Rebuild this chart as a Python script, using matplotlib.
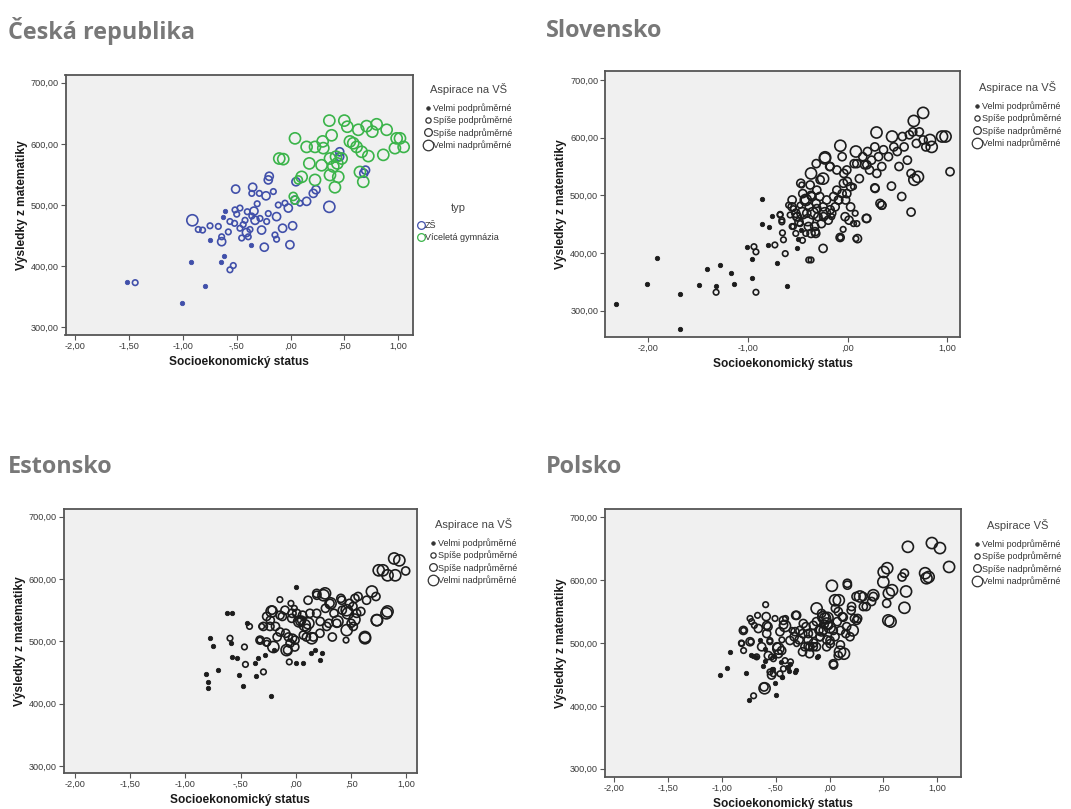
import matplotlib
matplotlib.use("Agg")
import matplotlib.pyplot as plt
from matplotlib.lines import Line2D
from matplotlib.ticker import FixedLocator, FuncFormatter

plt.rcParams['font.family'] = ['Liberation Sans', 'DejaVu Sans']

# ---------------- data ----------------
asp_labels = ["Velmi podprůměrné", "Spíše podprůměrné", "Spíše nadprůměrné", "Velmi nadprůměrné"]
typ_labels = ["ZŠ", "Víceletá gymnázia"]
x_label = "Socioekonomický status"
y_label = "Výsledky z matematiky"
titles = ["Česká republika", "Slovensko", "Estonsko", "Polsko"]
legend_titles = ["Aspirace na VŠ", "Aspirace na VŠ", "Aspirace na VŠ", "Aspirace VŠ"]
y_ticks = [300, 400, 500, 600, 700]
x_ticks_half = [-2.0, -1.5, -1.0, -0.5, 0.0, 0.5, 1.0]
x_ticks_unit = [-2.0, -1.0, 0.0, 1.0]

# Czech republic - ZŠ (ses, math, aspiration category 0..3)
cz_zs_ses = [-1.52, -1.443, -1.01, -0.928, -0.795, -0.912, -0.857, -0.817, -0.748, -0.748,
             -0.649, -0.618, -0.563, -0.532, -0.64, -0.64, -0.609, -0.625, -0.671, -0.563,
             -0.578, -0.516, -0.47, -0.51, -0.47, -0.423, -0.454, -0.393, -0.377, -0.402,
             -0.34, -0.33, -0.269, -0.371, -0.244, -0.352, -0.36, -0.29, -0.228, -0.207,
             -0.198, -0.16, -0.284, -0.207, -0.222, -0.13, -0.114, -0.074, -0.145, -0.13,
             0.019, -0.006, -0.052, -0.021, 0.04, 0.087, 0.149, 0.211, 0.05, 0.236,
             0.36, 0.456, 0.456, 0.696, 0.68, -0.5, -0.44, -0.36, -0.52, -0.41, -0.31]
cz_zs_math = [374, 373, 340, 406, 368, 475, 460, 459, 466, 443,
              406, 417, 394, 401, 440, 448, 491, 480, 465, 473,
              456, 492, 495, 526, 462, 475, 446, 448, 460, 489,
              490, 475, 459, 435, 431, 529, 519, 519, 515, 541,
              547, 522, 478, 486, 473, 481, 500, 462, 451, 444,
              466, 435, 503, 495, 508, 503, 506, 519, 538, 525,
              497, 587, 579, 557, 552, 485, 468, 482, 470, 455, 502]
cz_zs_asp = [0, 1, 0, 0, 0, 3, 1, 1, 1, 0,
             0, 0, 1, 1, 2, 1, 0, 0, 1, 1,
             1, 1, 1, 2, 1, 1, 1, 1, 1, 1,
             2, 2, 2, 0, 2, 2, 1, 1, 2, 2,
             2, 1, 1, 1, 1, 2, 1, 2, 1, 1,
             2, 2, 1, 2, 2, 1, 2, 2, 2, 2,
             3, 2, 2, 2, 2, 1, 1, 1, 1, 2, 1]

# Czech republic - Víceletá gymnázia
cz_gym_ses = [0.36, 0.499, 0.527, 0.706, 0.799, 0.759, 0.892, 0.985, 0.629, 0.381,
              0.041, 0.149, 0.227, 0.298, 0.304, 0.551, 0.582, 0.613, 0.66, 0.722,
              0.861, 0.969, -0.105, -0.068, 0.174, 0.288, 0.366, 0.422, 0.474, 0.434,
              0.397, 0.072, 0.103, 0.227, 0.366, 0.443, 0.412, 0.644, 0.675, 0.025,
              0.041, 1.05, 1.016]
cz_gym_math = [638, 638, 628, 629, 632, 620, 623, 609, 623, 614,
               609, 595, 595, 604, 593, 604, 601, 595, 587, 580,
               582, 593, 576, 575, 568, 565, 576, 579, 576, 568,
               563, 541, 546, 541, 549, 546, 529, 554, 538, 514,
               508, 595, 609]
cz_gym_asp = [3, 3, 3, 3, 3, 3, 3, 3, 3, 3,
              3, 3, 3, 3, 3, 3, 3, 3, 3, 3,
              3, 3, 3, 3, 3, 3, 3, 3, 3, 3,
              3, 2, 3, 3, 3, 3, 3, 3, 3, 2,
              2, 3, 3]

# Slovensko
sk_ses = [-2.32, -2.017, -1.917, -1.68, -1.68, -1.49, -1.41, -1.32, -1.32, -1.28,
          -1.17, -1.145, -1.007, -0.962, -0.962, -0.92, -0.94, -0.92, -0.862, -0.862,
          -0.79, -0.80, -0.754, -0.73, -0.713, -0.678, -0.66, -0.654, -0.644, -0.626,
          -0.609, -0.592, -0.505, -0.495, -0.47, -0.39, -0.367, -0.246, -0.073, -0.045,
          0.014, 0.083, 0.093, 0.187, 0.273, 0.325, 0.343, 0.44, 0.543, 0.637,
          0.758, 0.664, 0.948, 0.983, 1.028, 0.844,
          -0.47, -0.557, -0.52, -0.45, -0.367, -0.315, -0.246, -0.228, -0.18, -0.14,
          -0.073, -0.055, -0.038, -0.003, 0.03, 0.066, 0.083, 0.118, 0.152, 0.17,
          0.2, 0.22, 0.24, 0.273, 0.29, 0.31, 0.343, 0.36, 0.41, 0.446,
          0.464, 0.498, 0.516, 0.55, 0.567, 0.6, 0.62, 0.637, 0.67, 0.706,
          0.72, 0.758, 0.785, 0.827, 0.654, 0.69,
          -0.557, -0.505, -0.488, -0.453, -0.42, -0.40, -0.385, -0.367, -0.35, -0.33,
          -0.315, -0.298, -0.28, -0.263, -0.246, -0.228, -0.211, -0.194, -0.16, -0.125,
          -0.09, -0.055, -0.02, 0.03, -0.42, -0.453, -0.557, -0.52, -0.367, -0.32,
          -0.226, -0.175, -0.108, -0.008, 0.092, 0.193, 0.293, -0.46, -0.376, -0.276,
          -0.309, -0.36, -0.426, -0.477, -0.544, -0.577, -0.51, -0.41, -0.309, -0.242,
          -0.175, -0.092, -0.108, -0.042, -0.008, 0.059, -0.393, -0.477, -0.326, -0.544,
          -0.159, -0.025, 0.059, 0.076, 0.193, 0.276, 0.343, 0.099, -0.075, -0.677, -0.66]
sk_math = [311, 347, 391, 329, 268, 345, 373, 343, 332, 379,
           366, 346, 410, 389, 356, 332, 411, 402, 493, 451,
           446, 414, 464, 414, 382, 466, 454, 435, 423, 399,
           342, 483, 408, 424, 440, 388, 388, 408, 427, 441,
           457, 425, 451, 460, 513, 486, 483, 516, 498, 471,
           643, 629, 602, 602, 541, 584,
           521, 492, 469, 503, 538, 555, 529, 564, 550, 498,
           586, 567, 538, 524, 515, 555, 576, 529, 567, 553,
           576, 544, 561, 584, 609, 567, 550, 579, 567, 602,
           584, 576, 550, 602, 584, 561, 605, 538, 527, 532,
           610, 596, 584, 596, 610, 590,
           480, 463, 454, 469, 492, 457, 480, 500, 469, 446,
           486, 463, 498, 451, 480, 469, 492, 457, 469, 480,
           492, 503, 492, 480, 434, 422, 446, 434, 434, 434,
           566, 550, 544, 544, 555, 553, 538, 518, 518, 527,
           509, 498, 492, 483, 477, 466, 463, 469, 477, 463,
           475, 492, 509, 521, 503, 515, 446, 451, 437, 446,
           463, 463, 451, 469, 460, 512, 483, 425, 427, 467, 457]
sk_asp = [0, 0, 0, 0, 0, 0, 0, 0, 1, 0,
          0, 0, 0, 0, 0, 1, 1, 1, 0, 0,
          0, 0, 0, 1, 0, 1, 1, 1, 1, 1,
          0, 1, 0, 0, 0, 1, 1, 2, 1, 1,
          2, 1, 1, 2, 2, 2, 2, 2, 2, 2,
          3, 3, 3, 3, 2, 3,
          2, 2, 2, 2, 3, 2, 3, 3, 2, 2,
          3, 2, 2, 2, 2, 2, 3, 2, 2, 2,
          2, 2, 2, 2, 3, 2, 2, 2, 2, 3,
          2, 2, 2, 2, 2, 2, 2, 2, 3, 3,
          2, 2, 2, 3, 2, 2,
          2, 2, 2, 3, 3, 3, 2, 2, 3, 2,
          2, 2, 2, 2, 2, 3, 2, 2, 2, 2,
          2, 2, 2, 2, 1, 1, 1, 1, 2, 2,
          3, 2, 2, 2, 2, 2, 2, 1, 2, 2,
          2, 2, 2, 1, 1, 1, 2, 2, 2, 2,
          2, 2, 2, 2, 2, 1, 2, 1, 2, 1,
          1, 2, 1, 1, 2, 2, 2, 2, 2, 1, 1]

# Estonsko
ee_ses = [-0.818, -0.793, -0.80, -0.778, -0.753, -0.709, -0.628, -0.575, -0.597, -0.59,
          -0.575, -0.53, -0.519, -0.48, -0.466, -0.457, -0.44, -0.42, -0.372, -0.357,
          -0.341, -0.326, -0.31, -0.294, -0.279, -0.263, -0.232, -0.223, -0.216, -0.2,
          -0.185, -0.17, -0.145, -0.123, -0.092, -0.076, -0.06, -0.045, -0.035, -0.03,
          -0.014, 0.0, -0.01, 0.0, 0.03, 0.06, 0.08, 0.095, 0.11, 0.127,
          0.14, 0.158, 0.17, 0.19, 0.22, 0.25, 0.267, 0.298, 0.314, 0.33,
          0.345, 0.376, 0.407, 0.42, 0.454, 0.47, 0.485, 0.5, 0.517, 0.53,
          0.563, 0.588, 0.625, 0.64, 0.688, 0.725, 0.735, 0.75, 0.788, 0.83,
          0.83, 0.89, 0.937, 0.994, 0.9, 0.22, 0.236, 0.065,
          -0.22, -0.144, -0.038, 0.037, 0.113, 0.188, 0.264, 0.188, 0.309, 0.415,
          0.535, 0.46, 0.55, 0.52, 0.46, 0.37, 0.279, 0.218, 0.143, 0.067,
          -0.008, -0.068, -0.144, -0.235, -0.295, -0.325, -0.265, -0.204, -0.084, -0.053,
          0.098, 0.052, 0.007, -0.099, -0.265, 0.626, 0.732, 0.82]
ee_math = [447, 434, 425, 506, 493, 454, 546, 546, 505, 498,
           475, 473, 446, 429, 491, 463, 529, 524, 466, 445,
           473, 502, 524, 451, 478, 497, 534, 413, 550, 486,
           524, 507, 567, 540, 513, 486, 467, 561, 545, 505,
           553, 588, 491, 465, 532, 542, 526, 507, 566, 545,
           481, 507, 486, 574, 532, 574, 553, 529, 561, 507,
           545, 532, 569, 550, 502, 545, 561, 529, 556, 535,
           572, 548, 507, 566, 580, 572, 534, 614, 614, 606,
           548, 633, 630, 613, 606, 470, 481, 465,
           548, 542, 537, 532, 529, 545, 577, 577, 561, 566,
           569, 550, 545, 524, 518, 529, 524, 513, 505, 510,
           502, 507, 515, 524, 524, 502, 499, 491, 486, 497,
           521, 534, 545, 550, 540, 505, 534, 545]
ee_asp = [0, 0, 0, 0, 0, 0, 0, 0, 1, 0,
          0, 0, 0, 0, 1, 1, 0, 1, 0, 0,
          0, 1, 1, 1, 0, 1, 2, 0, 2, 0,
          2, 2, 1, 2, 2, 2, 1, 1, 2, 2,
          1, 0, 2, 0, 3, 2, 3, 2, 2, 2,
          0, 2, 0, 2, 2, 3, 2, 2, 3, 2,
          2, 3, 2, 2, 1, 3, 2, 2, 2, 3,
          2, 2, 3, 2, 3, 2, 3, 3, 3, 3,
          3, 3, 3, 2, 3, 0, 0, 0,
          3, 2, 2, 2, 3, 2, 3, 2, 2, 2,
          2, 3, 2, 2, 3, 2, 2, 2, 3, 2,
          2, 2, 2, 2, 2, 2, 2, 3, 3, 2,
          2, 2, 2, 2, 2, 3, 3, 3]

# Polsko
pl_ses = [-1.02, -0.957, -0.93, -0.80, -0.82, -0.78, -0.749, -0.707, -0.733, -0.74,
          -0.70, -0.67, -0.65, -0.733, -0.685, -0.62, -0.595, -0.605, -0.59, -0.573,
          -0.556, -0.54, -0.524, -0.5, -0.508, -0.54, -0.49, -0.476, -0.444, -0.428,
          -0.41, -0.395, -0.44, -0.364, -0.33, -0.316, -0.316, -0.284, -0.252, -0.22,
          -0.2, -0.187, -0.155, -0.123, -0.123, -0.107, -0.09, -0.075, -0.06, -0.043,
          -0.027, -0.01, 0.005, 0.021, 0.037, 0.053, 0.07, 0.085, 0.1, 0.117,
          0.133, 0.15, 0.165, 0.2, 0.214, 0.23, 0.245, 0.26, 0.31, 0.34,
          0.406, 0.502, 0.535, 0.55, 0.58, 0.566, 0.673, 0.695, 0.71, 0.695,
          0.727, 0.887, 0.92, 0.95, 1.025, 1.11, 0.9,
          -0.15, -0.05, -0.02, 0.0, -0.1, 0.05, -0.2, -0.25, -0.35, 0.1,
          -0.45, -0.38, -0.6, -0.52,
          -0.802, -0.725, -0.663, -0.585, -0.585, -0.508, -0.43, -0.415, -0.462, -0.555,
          -0.632, -0.74, -0.818, -0.80, -0.477, -0.446, -0.57, -0.678, -0.71, -0.6,
          -0.523, -0.415, -0.369, -0.523, -0.43, -0.462, -0.384, -0.322, -0.555, -0.54,
          -0.61, -0.446, -0.307, -0.245, -0.276, -0.198, -0.152, -0.121, -0.059, -0.028,
          -0.09, 0.003, 0.05, 0.034, 0.08, 0.127, 0.158, 0.189, 0.204, 0.251,
          0.282, 0.313, 0.39, 0.406, 0.164, 0.034, 0.096, 0.08, -0.121, -0.183,
          -0.23, -0.307, -0.369, 0.499, 0.545, 0.53, -0.028, -0.074, -0.152, -0.322]
pl_math = [449, 460, 485, 520, 500, 453, 409, 416, 502, 539,
           528, 544, 505, 481, 478, 463, 561, 428, 542, 526,
           502, 478, 451, 417, 436, 459, 494, 483, 505, 529,
           539, 462, 446, 470, 510, 544, 457, 505, 486, 526,
           505, 483, 515, 534, 494, 479, 510, 547, 520, 539,
           505, 528, 499, 591, 465, 555, 534, 568, 497, 542,
           483, 515, 592, 552, 520, 539, 574, 539, 574, 558,
           574, 613, 619, 579, 584, 534, 605, 611, 582, 556,
           653, 611, 605, 659, 651, 621, 603,
           500, 530, 540, 525, 520, 510, 495, 515, 520, 520,
           470, 455, 490, 480,
           520, 534, 523, 528, 515, 539, 536, 527, 518, 504,
           494, 502, 499, 488, 491, 488, 480, 478, 480, 472,
           475, 472, 467, 459, 459, 451, 462, 454, 454, 449,
           430, 446, 544, 531, 520, 515, 528, 555, 541, 531,
           510, 504, 568, 520, 550, 541, 526, 510, 558, 536,
           574, 558, 566, 576, 595, 467, 486, 480, 478, 494,
           494, 499, 504, 597, 536, 563, 494, 520, 494, 518]
pl_asp = [0, 0, 0, 1, 1, 0, 0, 1, 1, 1,
          1, 1, 0, 0, 0, 0, 1, 3, 2, 2,
          1, 1, 1, 0, 0, 0, 2, 2, 1, 2,
          1, 0, 0, 1, 2, 2, 0, 2, 2, 2,
          2, 2, 2, 2, 2, 0, 2, 2, 2, 3,
          2, 2, 2, 3, 2, 2, 2, 3, 2, 2,
          3, 2, 2, 2, 3, 2, 2, 2, 2, 2,
          2, 3, 3, 3, 3, 3, 2, 2, 3, 3,
          3, 3, 3, 3, 3, 3, 3,
          2, 2, 3, 3, 2, 2, 2, 2, 1, 2,
          0, 0, 0, 0,
          2, 1, 2, 2, 2, 1, 2, 3, 2, 1,
          2, 2, 1, 1, 3, 2, 2, 1, 0, 0,
          1, 1, 0, 0, 1, 1, 0, 0, 1, 2,
          2, 0, 2, 2, 2, 2, 2, 3, 3, 3,
          2, 2, 3, 2, 2, 2, 2, 2, 2, 2,
          3, 2, 2, 3, 2, 2, 3, 2, 0, 2,
          2, 1, 2, 3, 3, 2, 2, 3, 2, 2]

# ---------------- style ----------------
W, H = 1071, 809
BG = '#f0f0f0'
FRAME = '#555555'
BLACK = '#1c1c1c'
BLUE = '#4150aa'
GREEN = '#3bb44a'
TITLE_C = '#787878'
SIZES = [10, 16, 34, 64]          # marker areas (pt^2) per aspiration category
LW = [0.6, 1.2, 1.2, 1.2]

fig = plt.figure(figsize=(W / 100, H / 100), dpi=100)
fig.patch.set_facecolor('white')


def fmt(v, _pos=None):
    s = f"{v:.2f}".replace('.', ',')
    if s.startswith('0,'):
        s = s[1:]
    elif s.startswith('-0,'):
        s = '-' + s[2:]
    return s


def make_axes(box, xlim, ylim, xticks):
    l, r, t, b = box
    ax = fig.add_axes([l / W, 1 - b / H, (r - l) / W, (b - t) / H])
    ax.set_facecolor(BG)
    ax.set_xlim(*xlim)
    ax.set_ylim(*ylim)
    ax.xaxis.set_major_locator(FixedLocator(xticks))
    ax.yaxis.set_major_locator(FixedLocator(y_ticks))
    ax.xaxis.set_major_formatter(FuncFormatter(fmt))
    ax.yaxis.set_major_formatter(FuncFormatter(fmt))
    for sp in ax.spines.values():
        sp.set_color(FRAME)
        sp.set_linewidth(1.3)
    ax.tick_params(direction='out', length=3.5, width=0.8, color=FRAME,
                   labelsize=6.6, labelcolor='#3a3a3a', pad=1.5)
    ax.set_xlabel(x_label, fontsize=8.6, fontweight='bold', color='#1a1a1a', labelpad=3.5)
    ax.set_ylabel(y_label, fontsize=8.6, fontweight='bold', color='#1a1a1a', labelpad=2)
    return ax


def scatter(ax, xs, ys, cats, color):
    for c in range(4):
        px = [x for x, k in zip(xs, cats) if k == c]
        py = [y for y, k in zip(ys, cats) if k == c]
        if not px:
            continue
        if c == 0:
            ax.scatter(px, py, s=SIZES[c], facecolors=color, edgecolors=color,
                       linewidths=LW[c], zorder=3)
        else:
            ax.scatter(px, py, s=SIZES[c], facecolors='none', edgecolors=color,
                       linewidths=LW[c], zorder=3)


def asp_legend(ax, title, anchor_px, color='#333333'):
    handles = []
    for c in range(4):
        lw = 0.6 if c == 0 else 0.9
        if c == 0:
            h = Line2D([], [], ls='none', marker='o', markersize=SIZES[c] ** 0.5 * 0.8,
                       markerfacecolor=color, markeredgecolor=color, markeredgewidth=lw)
        else:
            h = Line2D([], [], ls='none', marker='o', markersize=SIZES[c] ** 0.5 * 0.95,
                       markerfacecolor='none', markeredgecolor=color, markeredgewidth=lw)
        handles.append(h)
    leg = ax.legend(handles, asp_labels, title=title, loc='upper left',
                    bbox_to_anchor=(anchor_px[0] / W, 1 - anchor_px[1] / H),
                    bbox_transform=fig.transFigure, frameon=False,
                    fontsize=6.5, title_fontsize=8.0, handlelength=0.9,
                    handletextpad=0.15, labelspacing=0.28, borderpad=0,
                    borderaxespad=0)
    for t in leg.get_texts():
        t.set_color('#333333')
    leg.get_title().set_color('#444444')
    leg._legend_box.sep = 6
    return leg


# ----- Česká republika -----
ax1 = make_axes((65.5, 412.8, 75, 335), (-2.09, 1.135), (287.4, 712.6), x_ticks_half)
scatter(ax1, cz_zs_ses, cz_zs_math, cz_zs_asp, BLUE)
scatter(ax1, cz_gym_ses, cz_gym_math, cz_gym_asp, GREEN)
leg1 = asp_legend(ax1, legend_titles[0], (424, 83))
ax1.add_artist(leg1)
typ_handles = [Line2D([], [], ls='none', marker='o', markersize=SIZES[2] ** 0.5 * 0.95,
                      markerfacecolor='none', markeredgecolor=col, markeredgewidth=0.9)
               for col in (BLUE, GREEN)]
leg_typ = ax1.legend(typ_handles, typ_labels, title='typ', loc='upper left',
                     bbox_to_anchor=(417 / W, 1 - 203 / H), bbox_transform=fig.transFigure,
                     frameon=False, fontsize=6.5, title_fontsize=8.0, handlelength=0.8,
                     handletextpad=0.1, labelspacing=0.3, borderpad=0, borderaxespad=0)
for t in leg_typ.get_texts():
    t.set_color('#333333')
leg_typ.get_title().set_color('#444444')
leg_typ._legend_box.sep = 6

# ----- Slovensko -----
ax2 = make_axes((605.2, 960.3, 71, 337.3), (-2.433, 1.131), (253.9, 715.6), x_ticks_unit)
scatter(ax2, sk_ses, sk_math, sk_asp, BLACK)
asp_legend(ax2, legend_titles[1], (973, 81))

# ----- Estonsko -----
ax3 = make_axes((63.7, 416.7, 509, 773.3), (-2.103, 1.094), (288.3, 712.4), x_ticks_half)
scatter(ax3, ee_ses, ee_math, ee_asp, BLACK)
asp_legend(ax3, legend_titles[2], (429, 518))

# ----- Polsko -----
ax4 = make_axes((604.9, 960.6, 509.3, 776.7), (-2.089, 1.217), (287.3, 712.7), x_ticks_half)
scatter(ax4, pl_ses, pl_math, pl_asp, BLACK)
asp_legend(ax4, legend_titles[3], (973, 519))

# ----- panel titles -----
title_pos = [(8, 31), (546, 31), (8, 467), (546, 467)]
for (tx, ty), txt in zip(title_pos, titles):
    fig.text(tx / W, 1 - ty / H, txt, fontsize=16.8, fontweight='bold',
             family=['Open Sans', 'DejaVu Sans'], color=TITLE_C, va='center', ha='left')

fig.savefig('out.png', dpi=100, facecolor='white')
